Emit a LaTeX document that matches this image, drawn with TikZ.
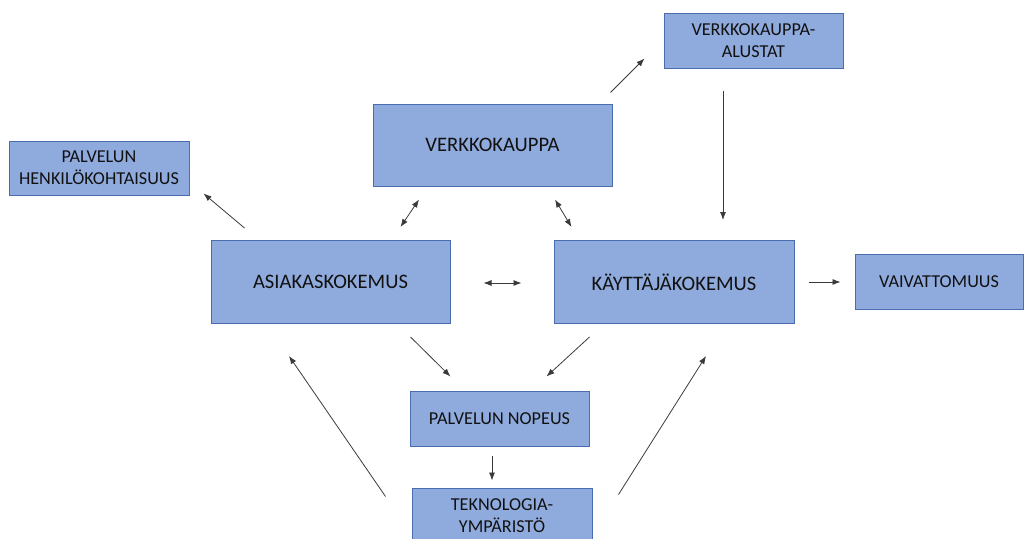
\documentclass[tikz,border=0pt]{standalone}
\usepackage{fontspec}
\setmainfont{Carlito}
\usepackage{tikz}
\usetikzlibrary{arrows.meta,positioning}
\definecolor{boxfill}{HTML}{8FAADC}
\definecolor{boxline}{HTML}{4A6DB0}
\definecolor{txt}{HTML}{111111}
\definecolor{arrline}{HTML}{3A3A3A}

\begin{document}
\begin{tikzpicture}[
  x=1pt, y=-1pt,
  box/.style={draw=boxline, fill=boxfill, line width=1pt, align=center, text=txt, inner sep=0pt},
  bigbox/.style={box, minimum width=239pt, minimum height=82pt, font=\fontsize{20.6}{24}\selectfont},
  smallbox/.style={box, minimum width=179pt, minimum height=55pt, font=\fontsize{18.2}{22}\selectfont},
  arr/.style={-{Latex[length=8pt,width=6pt]}, line width=0.8pt, draw=arrline},
  darr/.style={{Latex[length=8pt,width=6pt]}-{Latex[length=8pt,width=6pt]}, line width=0.8pt, draw=arrline}
]
\clip (0,0) rectangle (1024,538);
\node[bigbox] (verkko) at (492.5,145) {VERKKOKAUPPA};
\node[smallbox] (alustat) at (753.5,40.5) {VERKKOKAUPPA-\\ALUSTAT};
\node[smallbox, minimum width=180pt, minimum height=54pt] (henk) at (99,168) {PALVELUN\\HENKILÖKOHTAISUUS};
\node[bigbox, minimum height=83pt] (asia) at (330.5,282) {ASIAKASKOKEMUS};
\node[bigbox, minimum width=240pt, minimum height=83pt] (kayt) at (674,282) {KÄYTTÄJÄKOKEMUS};
\node[smallbox, minimum width=168pt] (vaiv) at (939,281.5) {VAIVATTOMUUS};
\node[smallbox] (nopeus) at (499.5,418.5) {PALVELUN NOPEUS};
\node[smallbox, minimum width=180pt] (tekno) at (502,515.5) {TEKNOLOGIA-\\YMPÄRISTÖ};
\draw[arr] ([shift={(-2,-11)}]verkko.north east) -- ([shift={(-19,-10)}]alustat.south west);
\draw[arr] ([shift={(-30.5,22)}]alustat.south) -- ([shift={(49,-20)}]kayt.north);
\draw[darr] ([shift={(-73.5,13)}]verkko.south) -- ([shift={(-50,-13)}]asia.north east);
\draw[darr] ([shift={(62.5,13)}]verkko.south) -- ([shift={(18,-13)}]kayt.north west);
\draw[arr] ([shift={(34,-12)}]asia.north west) -- ([shift={(14,-2)}]henk.south east);
\draw[darr] ([shift={(33,1)}]asia.east) -- ([shift={(-32,1)}]kayt.west);
\draw[arr] ([shift={(14,0)}]kayt.east) -- ([shift={(-14,0.5)}]vaiv.west);
\draw[arr] ([shift={(-40,13)}]asia.south east) -- ([shift={(41,-14)}]nopeus.north west);
\draw[arr] ([shift={(36,13)}]kayt.south west) -- ([shift={(-43,-14)}]nopeus.north east);
\draw[arr] ([shift={(-7.5,9)}]nopeus.south) -- ([shift={(-10,-7)}]tekno.north);
\draw[arr] ([shift={(-26,9)}]tekno.north west) -- ([shift={(-41.5,32)}]asia.south);
\draw[arr] ([shift={(26,7)}]tekno.north east) -- ([shift={(32,32)}]kayt.south);
\end{tikzpicture}
\end{document}
